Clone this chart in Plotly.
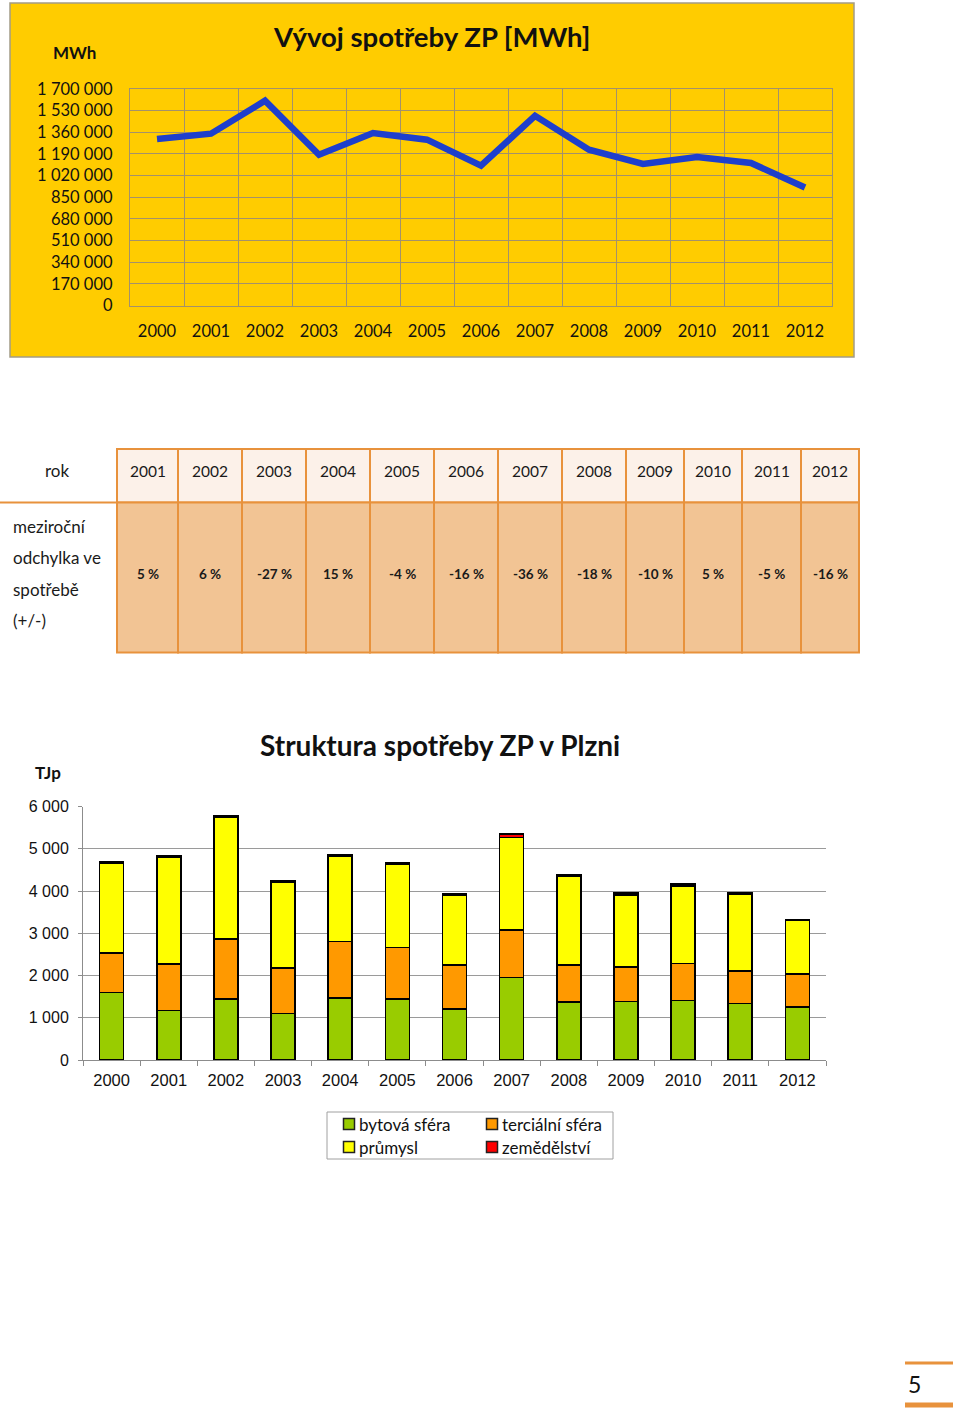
import plotly.graph_objects as go

# ---------------- data ----------------
years = [str(y) for y in range(2000, 2013)]
consumption_mwh = [1307000, 1349000, 1608000, 1184000, 1354000, 1302000, 1098000,
                   1490000, 1223000, 1111000, 1166000, 1119000, 927000]

table_years = [str(y) for y in range(2001, 2013)]
table_change = ["5 %", "6 %", "-27 %", "15 %", "-4 %", "-16 %", "-36 %",
                "-18 %", "-10 %", "5 %", "-5 %", "-16 %"]
table_head_label = "rok"
table_body_label = ["meziroční", "odchylka ve", "spotřebě", "(+/-)"]

bytova = [1594, 1168, 1437, 1105, 1469, 1437, 1208, 1950, 1374, 1382, 1413, 1334, 1248]
terciarni = [933, 1105, 1421, 1066, 1334, 1223, 1042, 1129, 876, 813, 868, 766, 789]
prumysl = [2131, 2527, 2882, 2029, 2029, 1975, 1658, 2187, 2092, 1713, 1840, 1832, 1271]
zemedelstvi = [40, 40, 40, 38, 36, 36, 22, 85, 40, 45, 45, 36, 12]

series_names = ["bytová sféra", "terciální sféra", "průmysl", "zemědělství"]
series_values = [bytova, terciarni, prumysl, zemedelstvi]
series_colors = ["#99CC00", "#FF9900", "#FFFF00", "#FF0000"]

# ---------------- layout helpers ----------------
W, H = 960, 1414
def X(px):
    return px / W
def Y(py):
    return 1 - py / H

CAL = "Lato, 'Open Sans', sans-serif"
ARIAL = "'Liberation Sans', Arial, sans-serif"
ORANGE_LINE = "#E8923C"
TXT = "#111111"

def label(text, px, py, size, family=CAL, xanchor="center", color=TXT):
    return dict(text=text, x=X(px), y=Y(py), xref="paper", yref="paper",
                showarrow=False, xanchor=xanchor, yanchor="middle",
                font=dict(family=family, size=size, color=color))

fig = go.Figure()

# ---------------- top line chart ----------------
fig.add_trace(go.Scatter(
    x=years, y=consumption_mwh, mode="lines",
    line=dict(color="#1E3FCC", width=6.5), showlegend=False,
    xaxis="x", yaxis="y"))

# ---------------- stacked bar chart ----------------
for name, vals, col in zip(series_names, series_values, series_colors):
    fig.add_trace(go.Bar(
        x=years, y=vals, name=name, width=0.42, showlegend=False,
        marker=dict(color=col, line=dict(color="#000000", width=1.6)),
        xaxis="x2", yaxis="y2"))

shapes = []
annotations = []

# yellow panel behind top chart
shapes.append(dict(type="rect", xref="paper", yref="paper",
                   x0=X(10), x1=X(854), y0=Y(357), y1=Y(3),
                   fillcolor="#FFCC00", line=dict(color="#A39C86", width=1.5),
                   layer="below"))
annotations.append(label("<b>Vývoj spotřeby ZP [MWh]</b>", 432, 37, 27.5))
annotations.append(label("<b>MWh</b>", 74, 52, 17))

# ---------------- table ----------------
col_edges = [117, 178, 242, 306, 370, 434, 498, 562, 626, 684, 742, 801, 859]
t_top, t_mid, t_bot = 449, 502.5, 652.5
for i in range(len(table_years)):
    x0, x1 = col_edges[i], col_edges[i + 1]
    shapes.append(dict(type="rect", xref="paper", yref="paper",
                       x0=X(x0), x1=X(x1), y0=Y(t_mid), y1=Y(t_top),
                       fillcolor="#FCF1E9", line=dict(color=ORANGE_LINE, width=2)))
    shapes.append(dict(type="rect", xref="paper", yref="paper",
                       x0=X(x0), x1=X(x1), y0=Y(t_bot), y1=Y(t_mid),
                       fillcolor="#F2C494", line=dict(color=ORANGE_LINE, width=2)))
    cx = (x0 + x1) / 2
    annotations.append(label(table_years[i], cx, 471, 15.5, color="#1A1A1A"))
    annotations.append(label("<b>" + table_change[i] + "</b>", cx, 574, 13.5,
                             color="#1A1A1A"))
shapes.append(dict(type="line", xref="paper", yref="paper",
                   x0=X(0), x1=X(117), y0=Y(t_mid), y1=Y(t_mid),
                   line=dict(color=ORANGE_LINE, width=2)))
annotations.append(label(table_head_label, 57, 470, 17, color="#1A1A1A"))
for k, line in enumerate(table_body_label):
    annotations.append(label(line, 11, 526 + k * 31.5, 17, xanchor="left",
                             color="#1A1A1A"))

# ---------------- bar chart labels ----------------
annotations.append(label("<b>Struktura spotřeby ZP v Plzni</b>", 440, 745, 28))
annotations.append(label("<b>TJp</b>", 48, 772, 17))

# ---------------- legend (drawn box) ----------------
shapes.append(dict(type="rect", xref="paper", yref="paper",
                   x0=X(327), x1=X(613), y0=Y(1159), y1=Y(1112),
                   fillcolor="white", line=dict(color="#A0A0A0", width=1)))
legend_slots = [(349, 1124), (492, 1124), (349, 1147), (492, 1147)]
for (sx, sy), name, col in zip(legend_slots, series_names, series_colors):
    shapes.append(dict(type="rect", xref="paper", yref="paper",
                       x0=X(sx - 5.5), x1=X(sx + 5.5), y0=Y(sy + 5.5), y1=Y(sy - 5.5),
                       fillcolor=col, line=dict(color="#222222", width=1.5)))
    annotations.append(label(name, sx + 8, sy, 17, xanchor="left"))

# ---------------- page number ----------------
shapes.append(dict(type="line", xref="paper", yref="paper",
                   x0=X(905), x1=X(953), y0=Y(1363), y1=Y(1363),
                   line=dict(color=ORANGE_LINE, width=3)))
shapes.append(dict(type="line", xref="paper", yref="paper",
                   x0=X(905), x1=X(953), y0=Y(1405), y1=Y(1405),
                   line=dict(color=ORANGE_LINE, width=5)))
annotations.append(label("5", 914, 1384, 23))

GRID_TOP = "#A3916A"
fig.update_layout(
    width=W, height=H,
    margin=dict(l=0, r=0, t=0, b=0, pad=0, autoexpand=False),
    paper_bgcolor="white", plot_bgcolor="rgba(0,0,0,0)",
    separators=", ",
    barmode="stack",
    showlegend=False,
    font=dict(family=CAL, color=TXT),
    xaxis=dict(domain=[X(130), X(832)], anchor="y", type="category",
               range=[-0.5, 12.5], tickson="boundaries", ticks="",
               showgrid=True, gridcolor=GRID_TOP, gridwidth=1.3,
               showline=True, mirror=True, linecolor=GRID_TOP, linewidth=1.3,
               tickfont=dict(family=CAL, size=16.5, color=TXT),
               ticklabelstandoff=11, automargin=False, fixedrange=True),
    yaxis=dict(domain=[Y(305.5), Y(89)], anchor="x",
               range=[0, 1700000], tick0=0, dtick=170000, tickformat=",d",
               showgrid=True, gridcolor=GRID_TOP, gridwidth=1.3, zeroline=False,
               showline=True, mirror=True, linecolor=GRID_TOP, linewidth=1.3,
               ticks="", tickfont=dict(family=CAL, size=16.5, color=TXT),
               ticklabelstandoff=13, automargin=False, fixedrange=True),
    xaxis2=dict(domain=[X(83), X(826)], anchor="y2", type="category",
                range=[-0.5, 12.5], tickson="boundaries", ticks="outside",
                ticklen=5, tickcolor="#8C8C8C", showgrid=False,
                showline=True, linecolor="#8C8C8C", linewidth=1,
                tickfont=dict(family=ARIAL, size=16.5, color=TXT),
                ticklabelstandoff=5, automargin=False, fixedrange=True),
    yaxis2=dict(domain=[Y(1060), Y(806.5)], anchor="x2",
                range=[0, 6000], tick0=0, dtick=1000, tickformat=",d",
                showgrid=True, gridcolor="#9A9A9A", gridwidth=1, zeroline=False,
                showline=True, linecolor="#8C8C8C", linewidth=1,
                ticks="outside", ticklen=4, tickcolor="#8C8C8C",
                tickfont=dict(family=ARIAL, size=16, color=TXT),
                ticklabelstandoff=6, automargin=False, fixedrange=True),
    shapes=shapes, annotations=annotations,
)

fig.write_html("out.html")
